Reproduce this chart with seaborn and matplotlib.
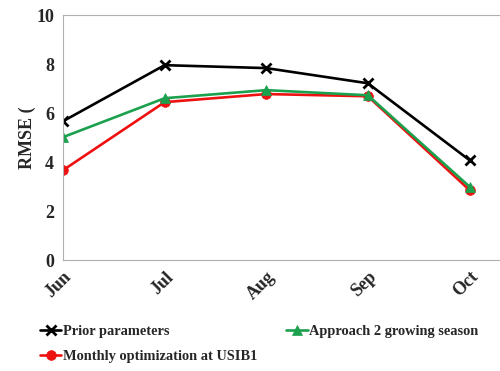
import numpy as np
import pandas as pd
import matplotlib
matplotlib.use("Agg")
import matplotlib.pyplot as plt
import seaborn as sns

# data
months = ["Jun", "Jul", "Aug", "Sep", "Oct"]
prior = [5.67, 7.96, 7.84, 7.22, 4.08]
approach2 = [5.02, 6.61, 6.94, 6.73, 3.00]
monthly = [3.67, 6.45, 6.78, 6.69, 2.86]
series_names = ["Prior parameters", "Approach 2 growing season",
                "Monthly optimization at USIB1"]

sns.set_style("white")
plt.rcParams['font.family'] = ['Liberation Serif', 'DejaVu Serif']
plt.rcParams['font.weight'] = 'bold'

df = pd.DataFrame({
    "month": months * 3,
    "rmse": prior + approach2 + monthly,
    "series": [series_names[0]] * 5 + [series_names[1]] * 5 + [series_names[2]] * 5,
})
df["x"] = np.tile(np.arange(len(months)), 3)

colors = {series_names[0]: "black", series_names[1]: "#1BA04E",
          series_names[2]: "#EE1111"}
marks = {series_names[0]: "x", series_names[1]: "^", series_names[2]: "o"}

fig = plt.figure(figsize=(5, 3.71), dpi=100)
ax = fig.add_axes([0.126, 0.299, 0.874, 0.66])
# draw back to front: monthly, approach, prior
for name in [series_names[2], series_names[1], series_names[0]]:
    sub = df[df.series == name]
    sns.lineplot(data=sub, x="x", y="rmse", ax=ax, color=colors[name],
                 marker=marks[name], markersize=7,
                 markeredgecolor=colors[name], linewidth=1.9, label=name,
                 markeredgewidth=2.0 if name == series_names[0] else 0.5)

ax.set_xlim(0, 4.3)
ax.set_ylim(0, 10)
ax.set_yticks([0, 2, 4, 6, 8, 10])
ax.set_xticks(range(len(months)))
ax.set_xticklabels(months, rotation=45, ha="right", rotation_mode="anchor",
                   fontsize=13, fontweight="bold")
ax.tick_params(axis="y", labelsize=13, length=3, color="#b0b0b0", direction="out")
ax.tick_params(axis="x", length=3, color="#b0b0b0", direction="in", pad=6)
for lab in ax.get_yticklabels():
    lab.set_fontweight("bold")
ax.set_xlabel("")
ax.set_ylabel("RMSE (", fontsize=13, fontweight="bold", labelpad=0)
for s in ["left", "bottom", "top"]:
    ax.spines[s].set_color("#b0b0b0")
    ax.spines[s].set_linewidth(0.8)
ax.spines["right"].set_visible(False)

h, l = ax.get_legend_handles_labels()
order = [l.index(series_names[0]), l.index(series_names[2]), l.index(series_names[1])]
ax.get_legend().remove()
fig.legend([h[i] for i in order], [l[i] for i in order], ncol=2,
           loc="upper left", bbox_to_anchor=(0.068, 0.14), frameon=False,
           prop={"size": 10.4, "weight": "bold"}, handlelength=1.5,
           handletextpad=0.1, columnspacing=2.0, labelspacing=0.85,
           borderaxespad=0)

fig.savefig("out.png", dpi=100)
